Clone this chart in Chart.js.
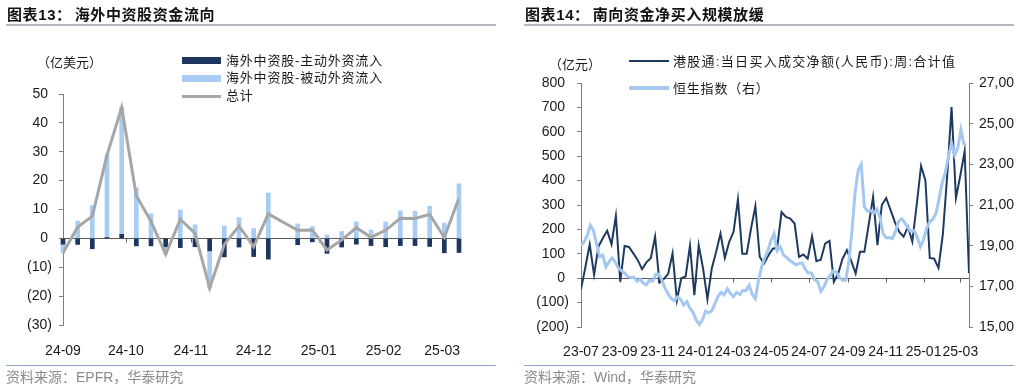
<!DOCTYPE html>
<html>
<head>
<meta charset="utf-8">
<script src="https://cdn.jsdelivr.net/npm/chart.js@4.4.1/dist/chart.umd.min.js"></script>
<style>
  body { margin: 0; background: #fff; }
  #page { position: relative; width: 1024px; height: 389px; overflow: hidden; font-family: "Liberation Sans", Arial, "Noto Sans CJK SC", sans-serif; color: #1a1a1a; }
  canvas { position: absolute; top: 0; }
  .abs { position: absolute; white-space: nowrap; line-height: 1; }
  .title { font-size: 15px; font-weight: bold; letter-spacing: 0.6px; color: #111; }
  .title span { margin-left: 3px; }
  .rule { position: absolute; height: 0; width: 490px; }
  .note { font-size: 14px; color: #8a8a8a; }
  .unit { font-size: 13px; }
  .leg { font-size: 13px; letter-spacing: 0.8px; }
  .sw { position: absolute; }
</style>
</head>
<body>
<div id="page">
  <canvas id="flowChart" width="512" height="389" style="left:0"></canvas>
  <canvas id="sbChart" width="502" height="389" style="left:512px"></canvas>

  <div class="abs title" style="left:7px;top:7px">图表13：<span>海外中资股资金流向</span></div>
  <div class="rule" style="left:6px;top:24px;border-top:2px solid #b4b8c0"></div>
  <div class="abs unit" style="left:37px;top:56px">（亿美元）</div>
  <div class="sw" style="left:182px;top:57px;width:39px;height:7px;background:#1d3660"></div>
  <div class="sw" style="left:182px;top:75px;width:39px;height:7px;background:#a8ccf2"></div>
  <div class="sw" style="left:182px;top:95px;width:39px;height:3px;background:#a6a6a6"></div>
  <div class="abs leg" style="left:226px;top:54px">海外中资股-主动外资流入</div>
  <div class="abs leg" style="left:226px;top:71px">海外中资股-被动外资流入</div>
  <div class="abs leg" style="left:226px;top:89px">总计</div>
  <div class="rule" style="left:6px;top:365px;border-top:1px solid #8ea6c4"></div>
  <div class="abs note" style="left:6px;top:370px">资料来源：EPFR，华泰研究</div>

  <div class="abs title" style="left:525px;top:7px">图表14：<span>南向资金净买入规模放缓</span></div>
  <div class="rule" style="left:524px;top:24px;border-top:2px solid #b4b8c0"></div>
  <div class="abs unit" style="left:549px;top:58px">（亿元）</div>
  <div class="sw" style="left:629px;top:60px;width:40px;height:2px;background:#1f3a60"></div>
  <div class="sw" style="left:629px;top:86px;width:40px;height:4px;background:#a4c8f0"></div>
  <div class="abs leg" style="left:673px;top:55px;letter-spacing:1.3px">港股通:当日买入成交净额(人民币):周:合计值</div>
  <div class="abs leg" style="left:673px;top:82px">恒生指数（右）</div>
  <div class="rule" style="left:524px;top:365px;border-top:1px solid #8ea6c4"></div>
  <div class="abs note" style="left:524px;top:370px">资料来源：Wind，华泰研究</div>
</div>
<script>
// 海外中资股资金流向 (weekly, 亿美元)
const flowDates = [
  '2024-09-04', '2024-09-11', '2024-09-18', '2024-09-25', '2024-10-02', '2024-10-09', '2024-10-16',
  '2024-10-23', '2024-10-30', '2024-11-06', '2024-11-13', '2024-11-20', '2024-11-27', '2024-12-04',
  '2024-12-11', '2024-12-25', '2025-01-01', '2025-01-08', '2025-01-15', '2025-01-22', '2025-01-29',
  '2025-02-05', '2025-02-12', '2025-02-19', '2025-02-26', '2025-03-05', '2025-03-12'
];
const flowActive = [-2.0, -2.1, -3.6, 0.3, 1.4, -2.6, -2.6, -2.9, -3.2, -2.9, -4.3, -6.4, -3.0, -6.3,
  -7.2, -2.2, -1.2, -5.2, -3.0, -2.0, -2.5, -2.9, -2.5, -2.5, -2.8, -5.0, -4.9];
const flowPassive = [-3.0, 6.0, 11.3, 28.5, 44.0, 17.5, 8.5, -2.6, 9.8, 4.7, -12.9, 4.3, 7.2, 3.4,
  15.7, 5.0, 4.1, 1.2, 2.4, 5.7, 2.9, 5.7, 9.5, 9.4, 11.1, 5.3, 18.9];
const flowTotal = [-5.0, 3.9, 7.7, 28.8, 45.4, 14.8, 5.9, -5.5, 6.6, 1.8, -17.2, -2.1, 4.3, -2.9,
  8.5, 2.8, 2.9, -4.0, -0.6, 3.7, 0.4, 2.8, 7.0, 6.9, 8.3, 0.3, 14.0];
const flowTickDates = ['2024-09-04', '2024-10-04', '2024-11-04', '2024-12-04', '2025-01-04', '2025-02-04', '2025-03-04'];
const flowTickLabels = ['24-09', '24-10', '24-11', '24-12', '25-01', '25-02', '25-03'];

// 南向资金 (weekly sum, 亿元) and 恒生指数 (every 5 days)
const sbStart = '2023-07-07';
const sbFlow = [
  -45, 45, 139, 14, 130, 164, 195, 139, 255, -14,
  132, 128, 102, 75, 37, 65, 82, 170, -18, -3,
  18, 102, -90, 0, 7, 133, -70, 135, 40, -86,
  40, 108, 183, 83, 149, 190, 323, 100, 100, 203,
  295, 87, 60, 94, 121, 125, 271, 251, 244, 224,
  87, 97, 80, 172, 70, 76, 142, 153, -15, 19,
  80, 115, 70, 19, 108, 108, 220, 333, 135, 300,
  329, 280, 230, 190, 170, 210, 150, 300, 460, 401,
  83, 80, 42, 180, 421, 701, 329, 420, 520, 20
];
const hsiStart = '2023-07-07';
const hsi = [
  19000, 19200, 19500, 20000, 19750, 19100, 18460, 18530, 17950, 18200,
  18400, 18200, 17900, 17760, 17650, 17480, 17420, 17450, 17250, 17350,
  17160, 17080, 17300, 17250, 17600, 17600, 17300, 16900, 16620, 16400,
  16300, 16480, 16350, 16080, 16250, 15920, 15720, 15340, 15120, 15350,
  15780, 15700, 15800, 16150, 16500, 16700, 16580, 16880, 16650, 16500,
  16700, 16600, 16800, 16800, 17050, 16600, 16400, 17300, 17950, 18400,
  18750, 19250, 19590, 18750, 18940, 18550, 18430, 18280, 18170, 18050,
  18130, 18150, 17850, 17650, 17650, 17330, 17230, 16750, 16980, 17320,
  17520, 17750, 17700, 17450, 17300, 17300, 18200, 19700, 21600, 22700,
  23000, 20900, 20700, 20740, 20600, 20800, 20400, 19600, 19380, 19400,
  19350, 19700, 20200, 20320, 20130, 19870, 19700, 19750, 19400, 18950,
  19300, 19850, 20180, 20300, 20600, 21300, 22100, 22600, 23400, 24030,
  23450, 23800, 24700, 23950
];
const sbTickDates = ['2023-07-07', '2023-09-07', '2023-11-07', '2024-01-07', '2024-03-07', '2024-05-07',
  '2024-07-07', '2024-09-07', '2024-11-07', '2025-01-07', '2025-03-07'];
const sbTickLabels = ['23-07', '23-09', '23-11', '24-01', '24-03', '24-05', '24-07', '24-09', '24-11', '25-01', '25-03'];

const DAY = 86400000;
const toDay = s => Date.parse(s) / DAY;
const everyDays = (start, n, step) => Array.from({ length: n }, (_, i) => toDay(start) + i * step);

const flowX = flowDates.map(toDay);
const flowTickX = flowTickDates.map(toDay);
const sbX = everyDays(sbStart, sbFlow.length, 7);
const hsiX = everyDays(hsiStart, hsi.length, 5);
const sbTickX = sbTickDates.map(toDay);

Chart.defaults.font.family = '"Liberation Sans", Arial, sans-serif';
Chart.defaults.font.size = 14;
Chart.defaults.color = '#1a1a1a';

// horizontal axis line at zero with small tick marks
const zeroAxis = {
  id: 'zeroAxis',
  beforeDatasetsDraw(chart) {
    const { ctx, chartArea, scales } = chart;
    const y0 = Math.round(scales.y.getPixelForValue(0)) + 0.5;
    ctx.save();
    ctx.strokeStyle = '#5a5a5a';
    ctx.lineWidth = 1;
    ctx.beginPath();
    ctx.moveTo(chartArea.left, y0);
    ctx.lineTo(chartArea.right, y0);
    scales.x.ticks.forEach(t => {
      const px = Math.round(scales.x.getPixelForValue(t.value)) + 0.5;
      ctx.moveTo(px, y0);
      ctx.lineTo(px, y0 + 4);
    });
    ctx.stroke();
    ctx.restore();
  }
};

const negLabel = v => v < 0 ? `(${-v})` : `${v} `;

new Chart(document.getElementById('flowChart'), {
  type: 'bar',
  data: {
    datasets: [
      {
        label: '海外中资股-主动外资流入',
        data: flowX.map((x, i) => ({ x, y: flowActive[i] })),
        backgroundColor: '#1d3660',
        barThickness: 4,
        clip: false,
        order: 1
      },
      {
        label: '海外中资股-被动外资流入',
        data: flowX.map((x, i) => ({ x, y: flowPassive[i] })),
        backgroundColor: '#a8ccf2',
        barThickness: 4,
        clip: false,
        order: 1
      },
      {
        type: 'line',
        label: '总计',
        data: flowX.map((x, i) => ({ x, y: flowTotal[i] })),
        borderColor: '#a6a6a6',
        borderWidth: 3,
        pointRadius: 0,
        tension: 0,
        stack: 'total',
        order: 0
      }
    ]
  },
  options: {
    responsive: false,
    animation: false,
    layout: { padding: { top: 94, right: 53, bottom: 20, left: 0 } },
    plugins: { legend: { display: false }, tooltip: { enabled: false } },
    scales: {
      x: {
        type: 'linear',
        stacked: true,
        offset: false,
        min: flowX[0],
        max: flowX[flowX.length - 1],
        afterBuildTicks: axis => { axis.ticks = flowTickX.map(value => ({ value })); },
        afterFit: axis => { axis.height = 44; },
        grid: { display: false },
        border: { display: false },
        ticks: { autoSkip: false, maxRotation: 0, padding: 10, callback: (v, i) => flowTickLabels[i] }
      },
      y: {
        stacked: true,
        min: -30,
        max: 50,
        afterFit: axis => { axis.width = 63; },
        grid: { drawOnChartArea: false, tickLength: 4, color: '#7f7f7f' },
        border: { color: '#7f7f7f' },
        ticks: { stepSize: 10, padding: 7, callback: negLabel }
      }
    }
  },
  plugins: [zeroAxis]
});

new Chart(document.getElementById('sbChart'), {
  type: 'line',
  data: {
    datasets: [
      {
        label: '港股通:当日买入成交净额(人民币):周:合计值',
        data: sbX.map((x, i) => ({ x, y: sbFlow[i] })),
        borderColor: '#1f3a60',
        borderWidth: 2,
        pointRadius: 0,
        tension: 0,
        yAxisID: 'y',
        order: 1
      },
      {
        label: '恒生指数（右）',
        data: hsiX.map((x, i) => ({ x, y: hsi[i] })),
        borderColor: '#a4c8f0',
        borderWidth: 3,
        pointRadius: 0,
        tension: 0,
        yAxisID: 'y1',
        order: 0
      }
    ]
  },
  options: {
    responsive: false,
    animation: false,
    layout: { padding: { top: 83, right: 0, bottom: 20, left: 0 } },
    plugins: { legend: { display: false }, tooltip: { enabled: false } },
    scales: {
      x: {
        type: 'linear',
        offset: false,
        min: sbX[0],
        max: sbX[sbX.length - 1],
        afterBuildTicks: axis => { axis.ticks = sbTickX.map(value => ({ value })); },
        afterFit: axis => { axis.height = 42; },
        grid: { display: false },
        border: { display: false },
        ticks: { autoSkip: false, maxRotation: 0, padding: 9, callback: (v, i) => sbTickLabels[i] }
      },
      y: {
        position: 'left',
        min: -200,
        max: 800,
        afterFit: axis => { axis.width = 69; },
        grid: { drawOnChartArea: false, tickLength: 4, color: '#7f7f7f' },
        border: { color: '#7f7f7f' },
        ticks: { stepSize: 100, padding: 8, callback: negLabel }
      },
      y1: {
        position: 'right',
        min: 15000,
        max: 27000,
        afterFit: axis => { axis.width = 45; },
        grid: { drawOnChartArea: false, tickLength: 4, color: '#7f7f7f' },
        border: { color: '#7f7f7f' },
        ticks: { stepSize: 2000, padding: 6, callback: v => v.toLocaleString('en-US') }
      }
    }
  },
  plugins: [zeroAxis]
});
</script>
</body>
</html>
